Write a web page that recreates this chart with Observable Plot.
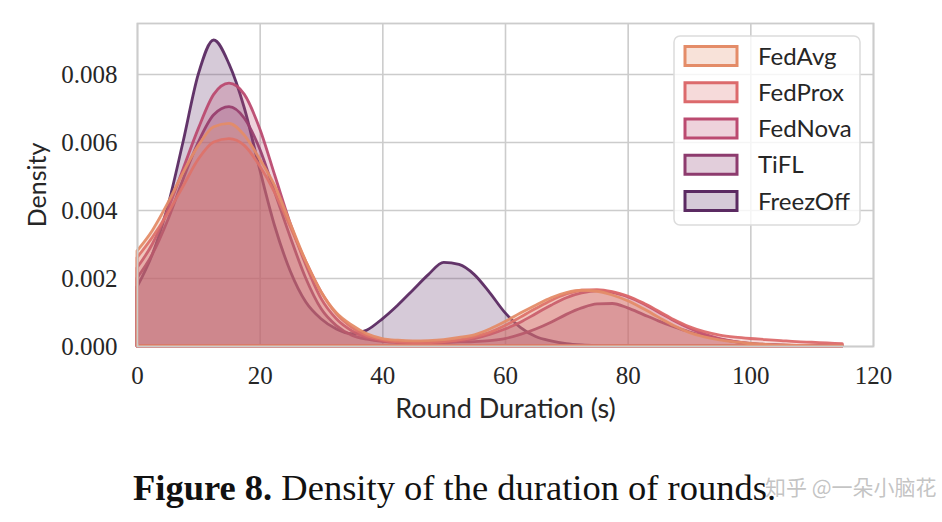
<!DOCTYPE html>
<html>
<head>
<meta charset="utf-8">
<script src="https://cdn.jsdelivr.net/npm/d3@7"></script>
<script src="https://cdn.jsdelivr.net/npm/@observablehq/plot@0.6"></script>
<style>
  body { margin: 0; background: #fff; }
  #wrap { position: relative; width: 942px; height: 522px; overflow: hidden; }
  #chart { position: absolute; left: 0; top: 0; }
  #caption { position: absolute; left: 133px; top: 470px; font-family: "Liberation Serif", serif; font-size: 36.5px; line-height: 36px; color: #111; white-space: nowrap; }
  #wm { position: absolute; left: 765px; top: 476px; font-family: "Noto Sans CJK SC", sans-serif; font-size: 21px; line-height: 21px; color: rgba(170,170,170,0.7); white-space: nowrap; }
</style>
</head>
<body>
<div id="wrap">
  <div id="chart"></div>
  <div id="caption"><b>Figure 8.</b> Density of the duration of rounds.</div>
  <div id="wm">知乎 @一朵小脑花</div>
</div>
<script>
// Round duration (s) sample positions
const durations = [0,2.5,5,7.5,10,12.5,15,17.5,20,22.5,25,27.5,30,32.5,35,37.5,40,42.5,45,47.5,50,52.5,55,57.5,60,62.5,65,67.5,70,72.5,75,77.5,80,82.5,85,87.5,90,92.5,95,97.5,100,102.5,105,107.5,110,112.5,115];

const seriesNames = ["FedAvg", "FedProx", "FedNova", "TiFL", "FreezOff"];
const seriesColors = ["#e48c68", "#dc6a6c", "#bb4a70", "#8d3b6e", "#5b2a62"];

const fedAvg = [.0028,.0034,.0042,.0051,.0059,.00645,.00655,.0062,.0055,.0047,.0036,.0025,.0016,.00098,.00062,.00036,.00022,.00017,.00015,.00016,.00019,.00025,.00033,.0005,.00072,.00097,.0012,.00142,.00157,.00164,.00161,.0015,.00133,.0011,.00085,.0006,.0004,.00027,.00018,.00012,.00008,.00005,.00003,.00002,.00001,0,0];
const fedProx = [.0026,.0032,.0039,.0047,.0055,.0060,.0061,.0059,.0053,.0045,.0035,.0025,.0016,.00095,.00055,.0003,.00018,.00012,.0001,.0001,.00013,.00018,.00027,.0004,.0006,.00085,.0011,.00134,.00153,.00164,.00166,.0016,.00147,.00127,.00103,.00078,.00057,.00042,.00032,.00026,.00022,.00019,.00016,.00013,.00011,.00009,.00007];
const fedNova = [.0023,.0030,.0040,.0052,.0064,.0074,.00773,.0074,.0064,.0050,.0036,.0024,.0014,.0008,.00045,.00025,.00015,.0001,.00008,.00008,.0001,.00015,.00022,.00034,.0005,.0007,.00095,.0012,.00142,.00156,.00162,.00158,.00145,.00125,.001,.00075,.00053,.00035,.00022,.00013,.00007,.00004,.00002,.00001,0,0,0];
const tiFL = [.0020,.0027,.0037,.0049,.0060,.0068,.00704,.0067,.0058,.0045,.0032,.0020,.0011,.0006,.00032,.0002,.00014,.00012,.00011,.00011,.00011,.00012,.00013,.00016,.00022,.00034,.0005,.0007,.00093,.00112,.00124,.00125,.00112,.00093,.00074,.00057,.00042,.0003,.0002,.00013,.00008,.00005,.00003,.00001,0,0,0];
const freezOff = [.00174,.0027,.0041,.0060,.0080,.0090,.0083,.0070,.0052,.0035,.0022,.0013,.0008,.0005,.00036,.00047,.0008,.0012,.00165,.0021,.00246,.0024,.0021,.00157,.00098,.00055,.00028,.00015,.00007,.00003,.00001,0,0,0,0,0,0,0,0,0,0,0,0,0,0,0,0];

const xTicks = [0, 20, 40, 60, 80, 100, 120];
const yTicks = [0, 0.002, 0.004, 0.006, 0.008];
const xLabel = "Round Duration (s)";
const yLabel = "Density";

const seriesValues = [fedAvg, fedProx, fedNova, tiFL, freezOff];
const rows = [];
seriesNames.forEach((name, i) => {
  durations.forEach((d, j) => rows.push({ name, x: d, y: seriesValues[i][j] }));
});

const gridColor = "#cccccc";
const serif = "'Liberation Serif', serif";
const sans = "Lato, 'DejaVu Sans', sans-serif";

// Seaborn layers: last hue drawn first so first hue is on top
const areaMarks = [];
for (let i = seriesNames.length - 1; i >= 0; i--) {
  const name = seriesNames[i];
  areaMarks.push(Plot.areaY(rows.filter(r => r.name === name), {
    x: "x", y: "y", curve: "monotone-x",
    fill: seriesColors[i], fillOpacity: 0.25,
    stroke: seriesColors[i], strokeWidth: 2.8, strokeOpacity: 0.95,
    strokeLinejoin: "round"
  }));
}

const plot = Plot.plot({
  width: 942,
  height: 440,
  marginLeft: 137,
  marginRight: 69,
  marginTop: 23,
  marginBottom: 94,
  x: { domain: [0, 120] },
  y: { domain: [0, 0.0095] },
  style: { background: "#fff", color: "#262626" },
  marks: [
    Plot.gridX(xTicks, { stroke: gridColor, strokeOpacity: 1, strokeWidth: 1.6 }),
    Plot.gridY(yTicks, { stroke: gridColor, strokeOpacity: 1, strokeWidth: 1.6 }),
    ...areaMarks,
    Plot.frame({ stroke: gridColor, strokeWidth: 1.8 }),
    Plot.axisX(xTicks, { tickSize: 0, tickPadding: 20, fontSize: 25, fontFamily: serif, label: null, tickFormat: d3.format("d") }),
    Plot.axisY(yTicks, { tickSize: 0, tickPadding: 20, fontSize: 25, fontFamily: serif, label: null, tickFormat: d3.format(".3f") }),
    Plot.text([xLabel], { frameAnchor: "bottom", dy: 71, fontSize: 27, fontFamily: sans, fill: "#262626" }),
    Plot.text([yLabel], { frameAnchor: "left", textAnchor: "middle", dx: -100, rotate: -90, fontSize: 25, fontFamily: sans, fill: "#262626" })
  ]
});
document.getElementById("chart").appendChild(plot);

// Legend (inside the plot area, top-right)
const svg = d3.select(plot);
const lg = svg.append("g").attr("class", "legend");
lg.append("rect")
  .attr("x", 674).attr("y", 36).attr("width", 186).attr("height", 189)
  .attr("rx", 6).attr("fill", "#fff").attr("fill-opacity", 0.8)
  .attr("stroke", "#dcdcdc").attr("stroke-width", 1.5);
seriesNames.forEach((name, i) => {
  const cy = 56 + i * 36.25;
  lg.append("rect")
    .attr("x", 685).attr("y", cy - 9.5).attr("width", 52).attr("height", 19)
    .attr("fill", seriesColors[i]).attr("fill-opacity", 0.25)
    .attr("stroke", seriesColors[i]).attr("stroke-width", 3);
  lg.append("text")
    .attr("x", 758).attr("y", cy).attr("dy", "0.36em")
    .attr("text-anchor", "start")
    .attr("font-family", "Lato, sans-serif").attr("font-size", 24)
    .attr("fill", "#262626").text(name);
});
</script>
</body>
</html>
